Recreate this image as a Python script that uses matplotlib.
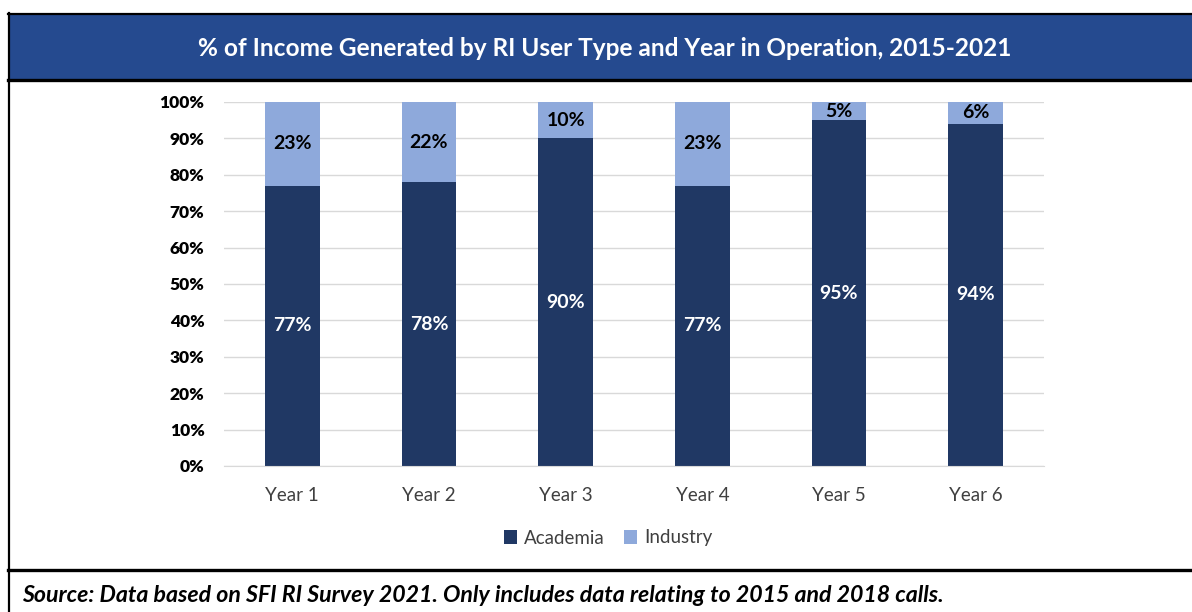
import matplotlib
matplotlib.use("Agg")
import matplotlib.pyplot as plt
from matplotlib.lines import Line2D
from matplotlib.patches import Rectangle, Patch
import numpy as np

categories = ["Year 1", "Year 2", "Year 3", "Year 4", "Year 5", "Year 6"]
academia = [77, 78, 90, 77, 95, 94]
industry = [23, 22, 10, 23, 5, 6]
yticks = [0, 10, 20, 30, 40, 50, 60, 70, 80, 90, 100]

title = "% of Income Generated by RI User Type and Year in Operation, 2015-2021"
source = "Source: Data based on SFI RI Survey 2021. Only includes data relating to 2015 and 2018 calls."

C_ACAD = "#203864"
C_IND = "#8EA9DB"
C_BAND = "#254A8F"
FONT = "Lato"

W, H = 1192, 612
fig = plt.figure(figsize=(W / 100, H / 100), dpi=100)
fig.patch.set_facecolor("white")

def fx(px):
    return px / W

def fy(py):
    return 1 - py / H

# title band and frame
fig.add_artist(Rectangle((fx(9), fy(79)), fx(W - 9), fy(14) - fy(79),
                         transform=fig.transFigure, facecolor=C_BAND, edgecolor="none", zorder=0))
fig.add_artist(Line2D([fx(8), 1], [fy(14), fy(14)], color="black", lw=1.6, transform=fig.transFigure))
fig.add_artist(Line2D([fx(8), 1], [fy(79.5), fy(79.5)], color="black", lw=2.4, transform=fig.transFigure))
fig.add_artist(Line2D([fx(9), fx(9)], [fy(13), 0], color="black", lw=1.6, transform=fig.transFigure))
fig.add_artist(Line2D([fx(8), 1], [fy(570), fy(570)], color="black", lw=2.4, transform=fig.transFigure))

fig.text(fx(605), fy(48), title, color="white", fontsize=17.6, fontweight="bold",
         family=FONT, ha="center", va="center")
fig.text(fx(22), fy(595), source, color="black", fontsize=16.7, fontweight="bold",
         style="italic", family=FONT, ha="left", va="center")

ax = fig.add_axes([fx(224), fy(466), fx(1044) - fx(224), fy(102) - fy(466)])
x = np.arange(len(categories))
bw = 0.4
ax.bar(x, academia, bw, color=C_ACAD, label="Academia", zorder=3)
ax.bar(x, industry, bw, bottom=academia, color=C_IND, label="Industry", zorder=3)

for i in range(len(categories)):
    ax.text(x[i], academia[i] / 2, f"{academia[i]}%", color="white", fontsize=14,
            fontweight="bold", family=FONT, ha="center", va="center", zorder=4)
    ax.text(x[i], academia[i] + industry[i] / 2, f"{industry[i]}%", color="black",
            fontsize=14, fontweight="bold", family=FONT, ha="center", va="center", zorder=4)

ax.set_xlim(-0.5, len(categories) - 0.5)
ax.set_ylim(0, 100)
ax.set_yticks(yticks)
ax.set_yticklabels([f"{v}%" for v in yticks], fontsize=12.5, fontweight="heavy", family=FONT)
ax.set_xticks(x)
ax.set_xticklabels(categories, fontsize=13.5, family=FONT, color="#404040")
ax.tick_params(axis="both", length=0)
ax.tick_params(axis="y", pad=14)
ax.tick_params(axis="x", pad=15)
ax.grid(axis="y", color="#D9D9D9", lw=1, zorder=0)
for s in ["top", "right", "left"]:
    ax.spines[s].set_visible(False)
ax.spines["bottom"].set_color("#D9D9D9")
ax.spines["bottom"].set_zorder(5)

handles = [Patch(facecolor=C_ACAD, label="Academia"), Patch(facecolor=C_IND, label="Industry")]
leg = fig.legend(handles=handles, loc="center", bbox_to_anchor=(fx(608), fy(538)), ncol=2,
                 frameon=False, prop={"family": FONT, "size": 13.5}, handlelength=0.7,
                 handleheight=0.7, handletextpad=0.4, columnspacing=1.0)
for t in leg.get_texts():
    t.set_color("#404040")

fig.savefig("out.png", dpi=100)
